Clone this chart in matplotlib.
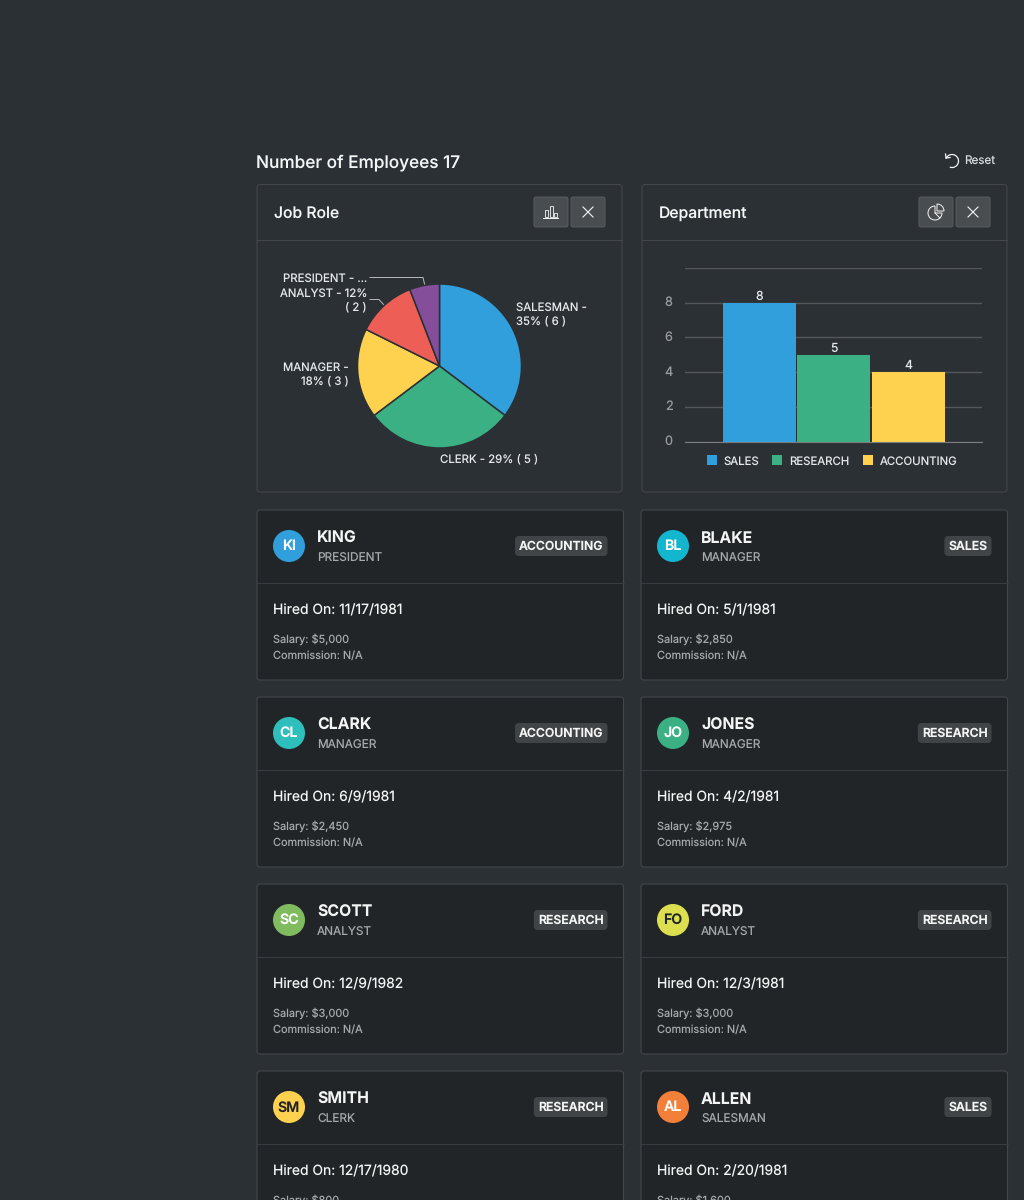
import matplotlib
matplotlib.use("Agg")
import matplotlib.pyplot as plt
from matplotlib.patches import FancyBboxPatch, Circle, Rectangle, Wedge, Arc

plt.rcParams['font.family'] = ['Inter', 'DejaVu Sans']
plt.rcParams['text.hinting'] = 'no_hinting'
plt.rcParams['text.hinting_factor'] = 1

# data
job_roles = ['SALESMAN', 'CLERK', 'MANAGER', 'ANALYST', 'PRESIDENT']
job_counts = [6, 5, 3, 2, 1]
job_colors = ['#309fdb', '#3cb085', '#fed14f', '#ed5f56', '#854e9b']

departments = ['SALES', 'RESEARCH', 'ACCOUNTING']
dept_counts = [8, 5, 4]
dept_colors = ['#309fdb', '#3cb085', '#fed14f']
y_ticks = [0, 2, 4, 6, 8, 10]
y_tick_labels = ['0', '2', '4', '6', '8', '']

names = ['KING', 'BLAKE', 'CLARK', 'JONES', 'SCOTT', 'FORD', 'SMITH', 'ALLEN']
initials = ['KI', 'BL', 'CL', 'JO', 'SC', 'FO', 'SM', 'AL']
jobs = ['PRESIDENT', 'MANAGER', 'MANAGER', 'MANAGER', 'ANALYST', 'ANALYST', 'CLERK', 'SALESMAN']
depts = ['ACCOUNTING', 'SALES', 'ACCOUNTING', 'RESEARCH', 'RESEARCH', 'RESEARCH', 'RESEARCH', 'SALES']
hired = ['11/17/1981', '5/1/1981', '6/9/1981', '4/2/1981', '12/9/1982', '12/3/1981', '12/17/1980', '2/20/1981']
salaries = ['$5,000', '$2,850', '$2,450', '$2,975', '$3,000', '$3,000', '$800', '$1,600']
avatar_colors = ['#309fdb', '#13b6cf', '#2ebfbc', '#3cb085', '#81bb5f', '#dde04e', '#fed14f', '#f38038']

BG = '#2b3034'
CARD_BG = '#212528'
BORDER = '#43474b'
WHITE = '#f4f5f5'
GREY = '#a6a8aa'

fig = plt.figure(figsize=(10.24, 12), dpi=100, facecolor=BG)

# pixel overlay for the page furniture
page = fig.add_axes([0, 0, 1, 1], zorder=0)
page.set_xlim(0, 1024)
page.set_ylim(1200, 0)
page.axis('off')


def box(x0, y0, x1, y1, fc, ec=BORDER, r=3, lw=0.8, z=1):
    p = FancyBboxPatch((x0, y0), x1 - x0, y1 - y0, boxstyle=f'round,pad=0,rounding_size={r}',
                       fc=fc, ec=ec, lw=lw, zorder=z)
    page.add_patch(p)


def icon_button(x0, y0):
    box(x0, y0, x0 + 34, y0 + 30, '#4a4d50', ec='#5a5d60', r=2, lw=0.7, z=2)


def close_icon(cx, cy):
    page.plot([cx - 5, cx + 5], [cy - 5, cy + 5], color=WHITE, lw=0.8, zorder=3)
    page.plot([cx - 5, cx + 5], [cy + 5, cy - 5], color=WHITE, lw=0.8, zorder=3)


page.text(256, 162.5, 'Number of Employees 17', color=WHITE, fontsize=12.4, va='center', fontweight='medium')
page.text(964, 160.5, 'Reset', color='#d8d9da', fontsize=8.4, va='center')

# reset icon
page.add_patch(Arc((952, 161), 13, 13, theta1=-160, theta2=110, color=WHITE, lw=0.9, zorder=3))
page.plot([945.5, 946, 950], [154, 158, 157.5], color=WHITE, lw=0.9, zorder=3)

# chart panels
for x0, x1, title in [(257, 622, 'Job Role'), (642, 1007, 'Department')]:
    box(x0, 184.5, x1, 492, BG)
    page.plot([x0, x1], [239.5, 239.5], color=BORDER, lw=0.8, zorder=2)
    page.text(x0 + 16.5, 214, title, color=WHITE, fontsize=11.3, va='center', fontweight='medium')
    icon_button(x1 - 88, 197)
    icon_button(x1 - 51, 197)
    close_icon(x1 - 34, 212)

# bar-chart icon
for bx, bh in [(545, 7), (549.5, 11), (554, 4)]:
    page.add_patch(Rectangle((bx, 217 - bh), 3.2, bh, fc='none', ec=WHITE, lw=0.6, zorder=3))
page.plot([543, 558], [217.5, 217.5], color=WHITE, lw=0.7, zorder=3)

# pie-chart icon
page.add_patch(Wedge((935, 213), 7, 0, 270, fc='none', ec=WHITE, lw=0.7, zorder=3))
page.add_patch(Wedge((937, 211), 7, 270, 360, fc='none', ec=WHITE, lw=0.7, zorder=3))
page.plot([935, 940], [213, 218], color=WHITE, lw=0.7, zorder=3)

# employee cards
for i, name in enumerate(names):
    col = i % 2
    row = i // 2
    x0 = 257 if col == 0 else 641
    x1 = 623.5 if col == 0 else 1007.5
    y0 = 510 + row * 187
    box(x0, y0, x1, y0 + 170, CARD_BG)
    page.plot([x0, x1], [y0 + 72.5, y0 + 72.5], color='#383c40', lw=0.8, zorder=2)
    page.add_patch(Circle((x0 + 32, y0 + 36), 16, fc=avatar_colors[i], ec='none', zorder=3))
    tc = '#212427' if initials[i] in ('FO', 'SM') else 'white'
    page.text(x0 + 32, y0 + 36.5, initials[i], color=tc, fontsize=10.2, fontweight='semibold',
              ha='center', va='center', zorder=4)
    page.text(x0 + 60, y0 + 28.5, name, color=WHITE, fontsize=11.4, fontweight='bold', va='center', zorder=4)
    page.text(x0 + 60, y0 + 48.5, jobs[i], color=GREY, fontsize=8.5, va='center', zorder=4)
    badge = page.text(x1 - 20, y0 + 36.5, depts[i], color=WHITE, fontsize=8.8, fontweight='semibold',
                      ha='right', va='center', zorder=4)
    fig.canvas.draw()
    ext = badge.get_window_extent()
    box(ext.x0 - 4, y0 + 26, x1 - 16, y0 + 46, '#414447', ec='none', r=4, z=3)
    page.text(x0 + 16, y0 + 100.5, f'Hired On: {hired[i]}', color=WHITE, fontsize=10, va='center', zorder=4)
    page.text(x0 + 16, y0 + 129.5, f'Salary: {salaries[i]}', color=GREY, fontsize=7.9, va='center', zorder=4)
    page.text(x0 + 16, y0 + 145.5, 'Commission: N/A', color=GREY, fontsize=7.9, va='center', zorder=4)

# pie chart
pie_ax = fig.add_axes([(439.5 - 82) / 1024, 1 - (366 + 82) / 1200, 164 / 1024, 164 / 1200], zorder=5)
pie_ax.pie(job_counts, colors=job_colors, startangle=90, counterclock=False, radius=1.0,
           wedgeprops={'edgecolor': '#2b3034', 'linewidth': 1.1})
pie_ax.set_xlim(-1.0, 1.0)
pie_ax.set_ylim(-1.0, 1.0)

total = sum(job_counts)
pct = [round(v / total * 100) for v in job_counts]
LABEL = '#e6e7e8'
page.text(516, 314.5, f'{job_roles[0]} -\n{pct[0]}% ( {job_counts[0]} )', color=LABEL, fontsize=8.2,
          ha='left', va='center', linespacing=1.3)
page.text(439.5, 459.5, f'{job_roles[1]} - {pct[1]}% ( {job_counts[1]} )', color=LABEL, fontsize=8.2,
          ha='left', va='center')
page.text(348.5, 375, f'{job_roles[2]} -\n{pct[2]}% ( {job_counts[2]} )', color=LABEL, fontsize=8.2,
          ha='right', va='center', multialignment='right', linespacing=1.3)
page.text(367, 300.5, f'{job_roles[3]} - {pct[3]}%\n( {job_counts[3]} )', color=LABEL, fontsize=8.2,
          ha='right', va='center', multialignment='right', linespacing=1.3)
page.text(367, 278.5, f'{job_roles[4]} - ...', color=LABEL, fontsize=8.2, ha='right', va='center')
page.plot([370, 423, 425], [277.5, 277.5, 286], color='#b8babb', lw=0.7, zorder=2)
page.plot([370, 379, 384], [299.5, 299.5, 305], color='#b8babb', lw=0.7, zorder=2)

# bar chart
ax_x0, ax_x1 = 685, 982
ax_y0, ax_y1 = 441.5, 268
bar_ax = fig.add_axes([ax_x0 / 1024, 1 - ax_y0 / 1200, (ax_x1 - ax_x0) / 1024, (ax_y0 - ax_y1) / 1200], zorder=5)
bar_ax.patch.set_alpha(0)
pos = list(range(len(departments)))
bars = bar_ax.bar(pos, dept_counts, width=0.98, color=dept_colors, zorder=3)
bar_ax.set_xlim(-1.0, 2.987)
bar_ax.set_ylim(0, 10)
bar_ax.set_yticks(y_ticks)
bar_ax.set_yticklabels(y_tick_labels, color='#9a9c9e', fontsize=9.2, va='center')
bar_ax.set_xticks([])
bar_ax.tick_params(axis='y', length=0, pad=9)
bar_ax.grid(axis='y', color='#555859', lw=1.0, zorder=0)
bar_ax.set_axisbelow(True)
for s in ['top', 'left', 'right']:
    bar_ax.spines[s].set_visible(False)
bar_ax.spines['bottom'].set_color('#7a7c7e')
bar_ax.bar_label(bars, labels=[str(v) for v in dept_counts], color=LABEL, fontsize=8.8, padding=0.5)

# legend
leg_x = [707, 772, 863]
for lx, d, c in zip(leg_x, departments, dept_colors):
    page.add_patch(Rectangle((lx, 455), 10, 10, fc=c, ec='none', zorder=3))
    page.text(lx + 17, 461.5, d, color=LABEL, fontsize=8.2, va='center', zorder=3)

fig.savefig('out.png', dpi=100, facecolor=BG)
